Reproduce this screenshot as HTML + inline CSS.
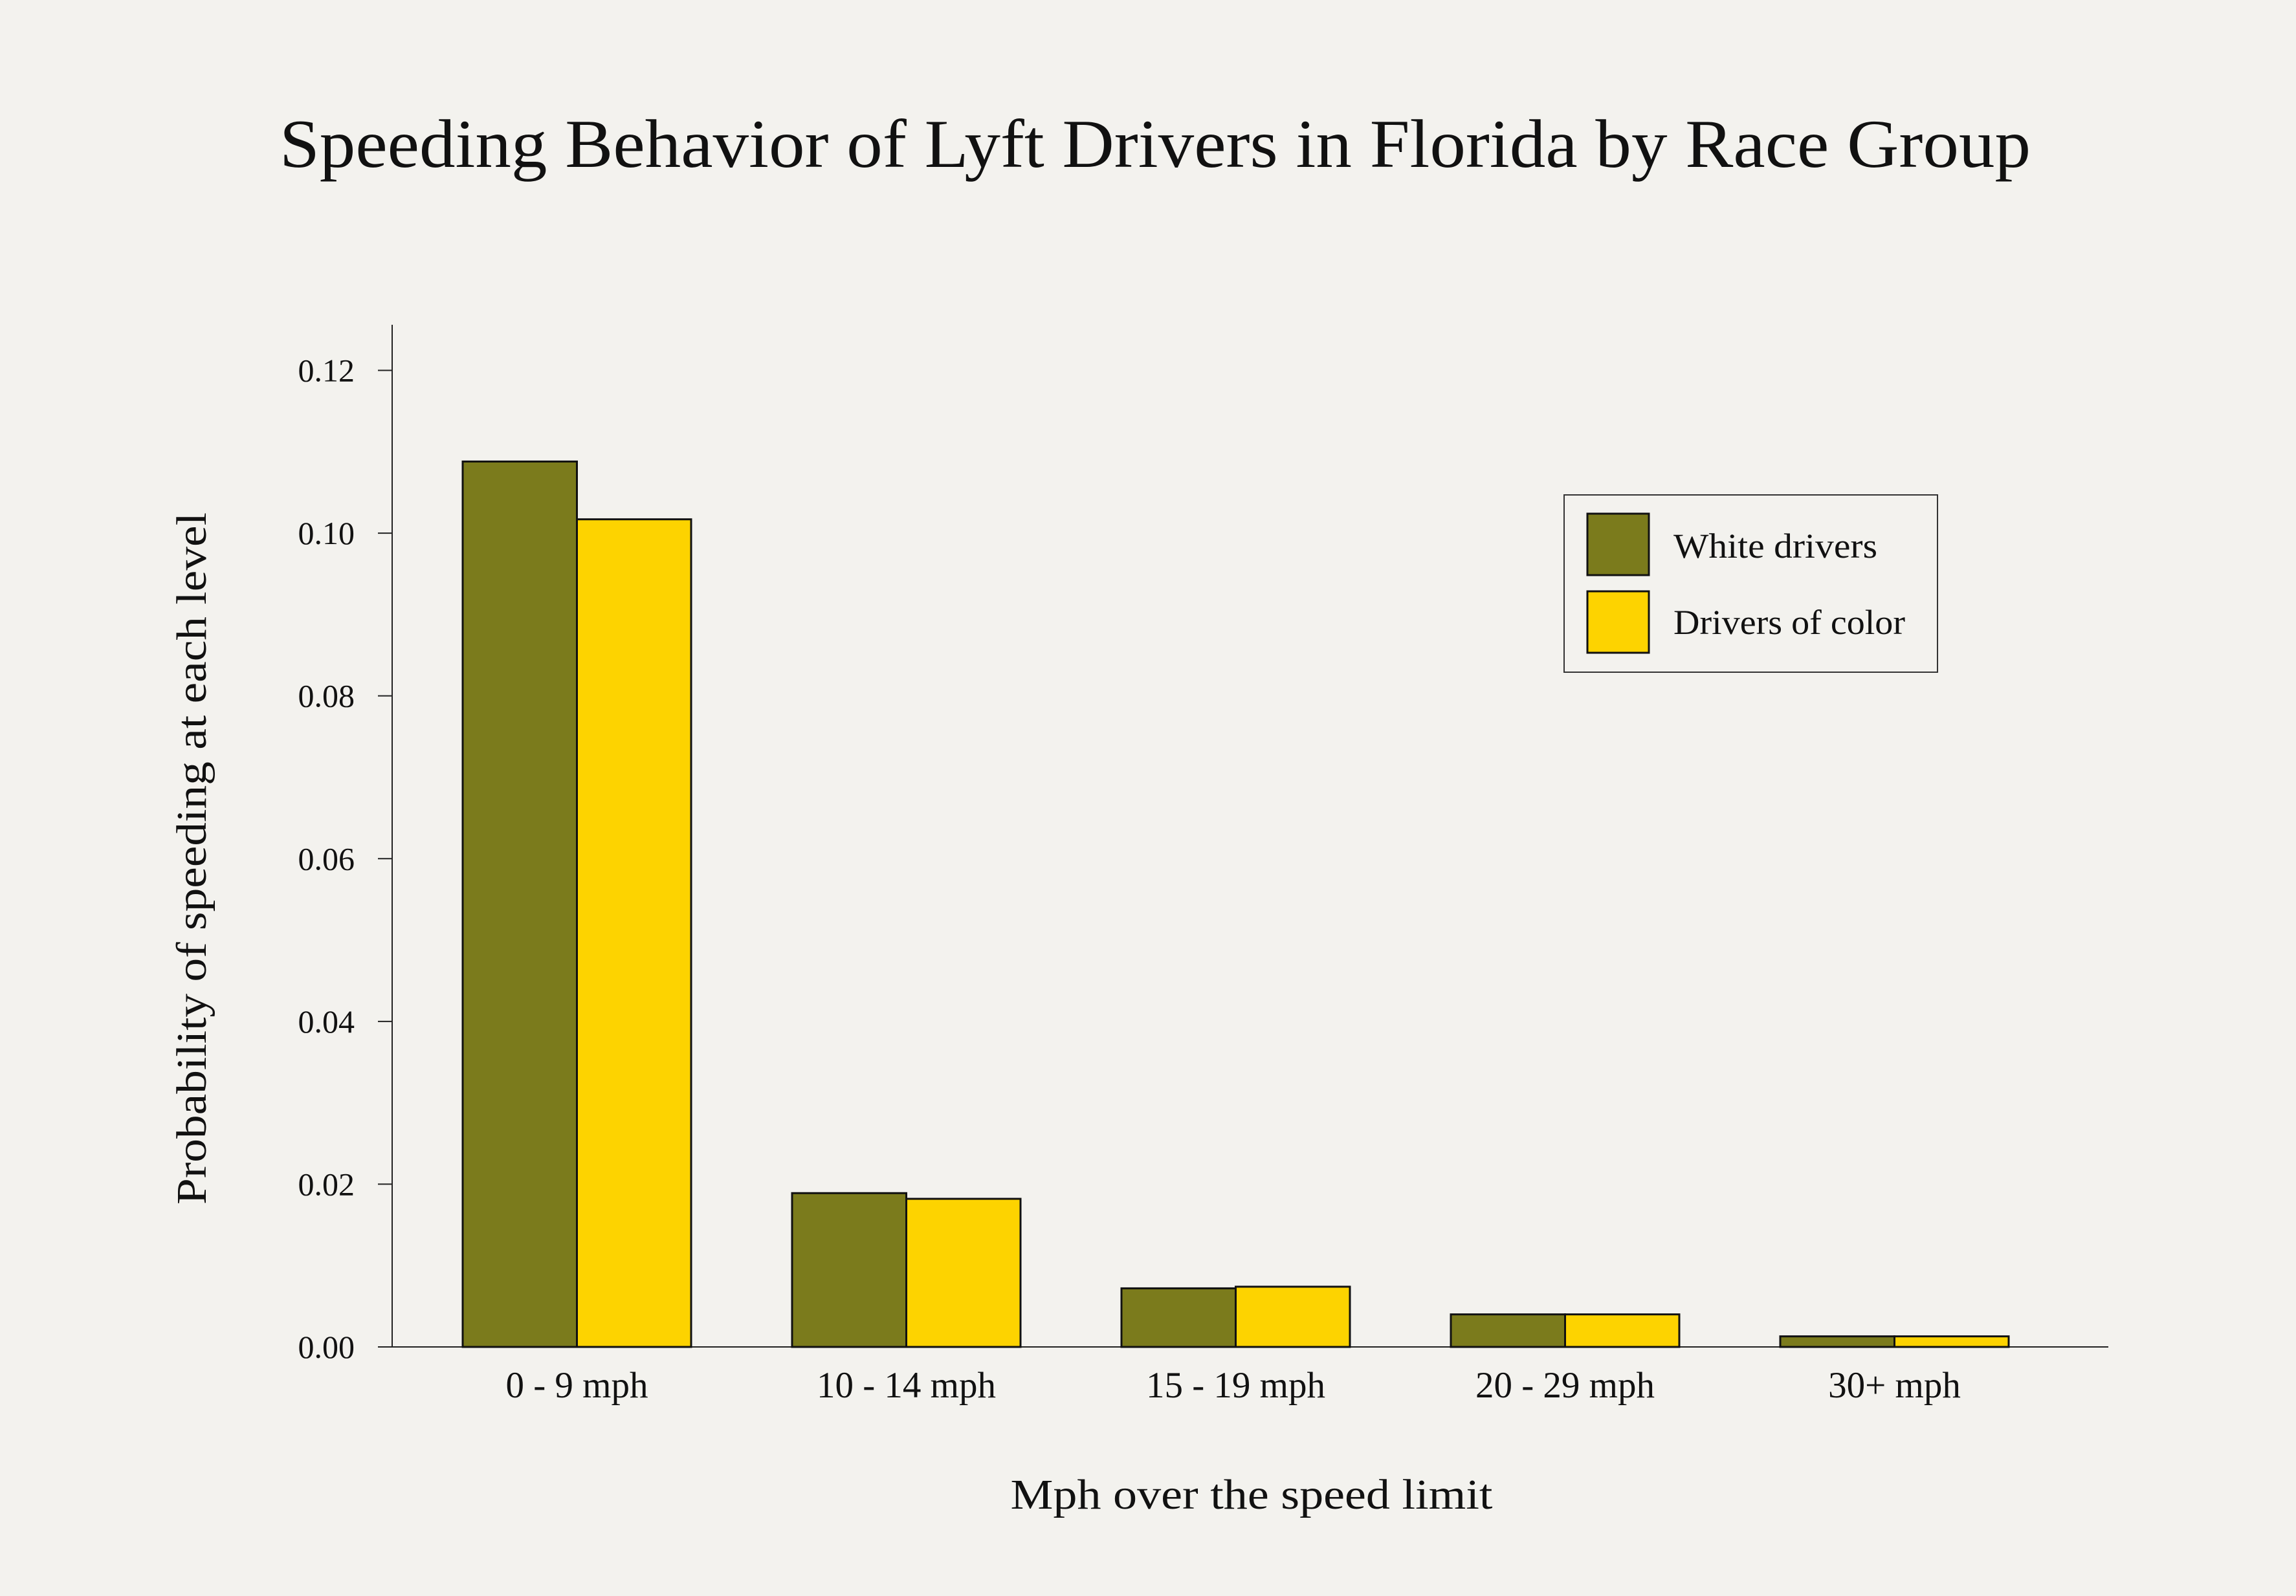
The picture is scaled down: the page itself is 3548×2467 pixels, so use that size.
<!DOCTYPE html>
<html><head><meta charset="utf-8"><style>
html,body{margin:0;padding:0;background:#f3f2ee;}
svg{display:block;font-family:"Liberation Serif",serif;}
</style></head><body>
<svg id="chart" width="3548" height="2467" viewBox="0 0 3548 2467" xmlns="http://www.w3.org/2000/svg">
<rect x="0" y="0" width="3548" height="2467" fill="#f3f2ee"/>
<text x="1785" y="258" font-size="106" text-anchor="middle" fill="#111" textLength="2706" lengthAdjust="spacingAndGlyphs">Speeding Behavior of Lyft Drivers in Florida by Race Group</text>
<g id="axes"></g>
<g id="bars"></g>
<text x="1934" y="2332" font-size="66" text-anchor="middle" fill="#111" textLength="745" lengthAdjust="spacingAndGlyphs">Mph over the speed limit</text>
<text transform="translate(318,1327) rotate(-90)" font-size="66" text-anchor="middle" fill="#111" textLength="1070" lengthAdjust="spacingAndGlyphs">Probability of speeding at each level</text>
<g>
<rect x="2417" y="765" width="577" height="274" fill="#f3f2ee" stroke="#333" stroke-width="2"/>
<rect x="2453" y="794" width="95" height="95" fill="#7b7b1c" stroke="#111" stroke-width="3"/>
<text x="2586" y="862" font-size="54" fill="#111" textLength="315" lengthAdjust="spacingAndGlyphs">White drivers</text>
<rect x="2453" y="914" width="95" height="95" fill="#fdd300" stroke="#111" stroke-width="3"/>
<text x="2586" y="980" font-size="54" fill="#111" textLength="358" lengthAdjust="spacingAndGlyphs">Drivers of color</text>
</g>
</svg>
<script>
const categories = ["0 - 9 mph","10 - 14 mph","15 - 19 mph","20 - 29 mph","30+ mph"];
const whiteValues = [0.1088,0.0189,0.0072,0.0040,0.0013];
const colorValues = [0.1017,0.0182,0.0074,0.0040,0.0013];
const yTicks = [0,0.02,0.04,0.06,0.08,0.10,0.12];
const yTickLabels = ["0.00","0.02","0.04","0.06","0.08","0.10","0.12"];

const NS="http://www.w3.org/2000/svg";
const X0=606, X1=3258, Y0=2082, YT=572.5, YMAX=0.12, YTOP=502;
const GROUP0=715, STEP=509, BW=176.5;
function yScale(v){return Y0-(v/YMAX)*(Y0-YT);}
function xGroup(i){return GROUP0+i*STEP;}
function mk(tag,attrs,parent){const e=document.createElementNS(NS,tag);for(const k in attrs)e.setAttribute(k,attrs[k]);parent.appendChild(e);return e;}
const axes=document.getElementById('axes');
const bars=document.getElementById('bars');

let yl=mk('line',{x1:X0,y1:YTOP,x2:X0,y2:Y0,stroke:'#222','stroke-width':2},axes);


let xl=mk('line',{x1:X0,y1:Y0,x2:X1,y2:Y0,stroke:'#222','stroke-width':2},axes);



yTicks.forEach((v,i)=>{
  const y=yScale(v);
  const t=mk('line',{x1:X0-22,y1:y,x2:X0,y2:y,stroke:'#222','stroke-width':2},axes);
  
  
  const l=mk('text',{x:X0-58,y:y+17,'font-size':50,'text-anchor':'end',fill:'#111'},axes);
  l.textContent=yTickLabels[i];
  
  
});

categories.forEach((c,i)=>{
  const gx=xGroup(i);
  const b1=mk('rect',{x:gx,y:yScale(whiteValues[i]),width:BW,height:Y0-yScale(whiteValues[i]),fill:'#7b7b1c',stroke:'#111','stroke-width':3},bars);
  
  
  const b2=mk('rect',{x:gx+BW,y:yScale(colorValues[i]),width:BW,height:Y0-yScale(colorValues[i]),fill:'#fdd300',stroke:'#111','stroke-width':3},bars);
  
  
  const l=mk('text',{x:gx+BW,y:2160,'font-size':57,'text-anchor':'middle',fill:'#111'},axes);
  l.textContent=c;
  
  
});
</script>
</body></html>
